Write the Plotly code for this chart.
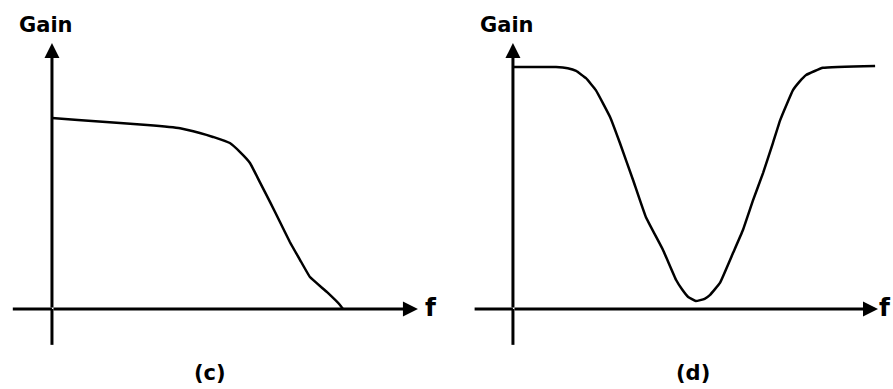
import plotly.graph_objects as go

# Filter response sketches: (c) low-pass, (d) band-stop (notch)
# frequency and gain in arbitrary units, axes origin at (0, 0)

lowpass_f = [0, 0.71, 1.86, 2.60, 3.50, 4.04, 4.40, 4.86, 5.14, 5.41, 5.68,
             5.96, 6.23, 6.50, 6.78, 7.05, 7.51, 7.87, 7.95]
lowpass_gain = [7.18, 7.11, 6.99, 6.92, 6.80, 6.62, 6.47, 6.24, 5.90, 5.49, 4.77,
                4.02, 3.27, 2.52, 1.84, 1.20, 0.64, 0.15, 0.0]

notch_f = [0, 1.18, 1.50, 1.73, 2.00, 2.27, 2.66, 2.93, 3.29, 3.64, 4.11, 4.47,
           4.64, 4.80, 5.01, 5.25, 5.40, 5.67, 6.03, 6.30, 6.58, 6.85, 7.12, 7.32,
           7.50, 7.67, 7.85, 8.03, 8.49, 9.92]
notch_gain = [9.10, 9.10, 9.05, 8.95, 8.68, 8.23, 7.22, 6.24, 4.85, 3.46, 2.22, 1.09,
              0.72, 0.45, 0.30, 0.38, 0.53, 0.98, 2.11, 2.97, 4.10, 5.11, 6.24, 7.10,
              7.70, 8.23, 8.55, 8.80, 9.07, 9.14]

axis_f = [-1.07, 10.0]      # horizontal axis extent (tail, arrow tip)
axis_gain = [-1.35, 10.0]   # vertical axis extent (tail, arrow tip)

panels = [
    dict(f=lowpass_f, gain=lowpass_gain, label="(c)", label_f=4.32, axis_f=axis_f),
    dict(f=notch_f, gain=notch_gain, label="(d)", label_f=4.93, axis_f=[-1.05, 10.0]),
]

fig = go.Figure()
annotations = []

for i, p in enumerate(panels):
    xa = "x" if i == 0 else "x2"
    ya = "y" if i == 0 else "y2"

    fig.add_trace(go.Scatter(x=p["f"], y=p["gain"], mode="lines",
                             line=dict(color="black", width=2.5, shape="spline", smoothing=0.3),
                             xaxis=xa, yaxis=ya, showlegend=False, hoverinfo="skip"))

    # axis stems below / left of origin
    fig.add_trace(go.Scatter(x=[0, 0], y=[axis_gain[0], 0], mode="lines",
                             line=dict(color="black", width=3),
                             xaxis=xa, yaxis=ya, showlegend=False, hoverinfo="skip"))
    fig.add_trace(go.Scatter(x=[p["axis_f"][0], 0], y=[0, 0], mode="lines",
                             line=dict(color="black", width=3),
                             xaxis=xa, yaxis=ya, showlegend=False, hoverinfo="skip"))

    # arrows for the two axes
    annotations.append(dict(x=0, y=axis_gain[1], ax=0, ay=0, xref=xa, yref=ya,
                            axref=xa, ayref=ya, showarrow=True, arrowhead=2,
                            arrowsize=1, arrowwidth=3, arrowcolor="black", text=""))
    annotations.append(dict(x=p["axis_f"][1], y=0, ax=0, ay=0, xref=xa, yref=ya,
                            axref=xa, ayref=ya, showarrow=True, arrowhead=2,
                            arrowsize=1, arrowwidth=3, arrowcolor="black", text=""))

    # text
    annotations.append(dict(x=-0.15, y=10.68, xref=xa, yref=ya, text="<b>Gain</b>",
                            showarrow=False, font=dict(family="DejaVu Sans", size=21, color="black")))
    annotations.append(dict(x=p["label_f"], y=-2.41, xref=xa, yref=ya, text="<b>" + p["label"] + "</b>",
                            showarrow=False, font=dict(family="DejaVu Sans", size=21, color="black")))

# "f" labels: the right one hugs the page edge
f_font = dict(family="DejaVu Sans", size=25, color="black")
annotations.append(dict(x=10.36, y=0.05, xref="x", yref="y", text="<b>f</b>",
                        showarrow=False, font=f_font))
annotations.append(dict(x=1.0, y=0.05, xref="paper", yref="y2", xanchor="right",
                        text="<b>f</b>", showarrow=False, font=f_font))

hidden = dict(showgrid=False, zeroline=False, showticklabels=False, ticks="", showline=False)

fig.update_layout(
    width=893, height=389,
    margin=dict(l=0, r=0, t=0, b=0),
    paper_bgcolor="white", plot_bgcolor="white",
    xaxis=dict(domain=[0, 0.5], range=[-1.42, 10.78], **hidden),
    yaxis=dict(domain=[0, 1], range=[-3.01, 11.62], **hidden),
    xaxis2=dict(domain=[0.5, 1], range=[-1.82, 10.41], **hidden),
    yaxis2=dict(domain=[0, 1], range=[-3.01, 11.62], anchor="x2", **hidden),
    annotations=annotations,
)

# drop the default page margin so the figure sits at the window's corner
fig.write_html("out.html", config={"displayModeBar": False},
               post_script="document.body.style.margin='0';")
